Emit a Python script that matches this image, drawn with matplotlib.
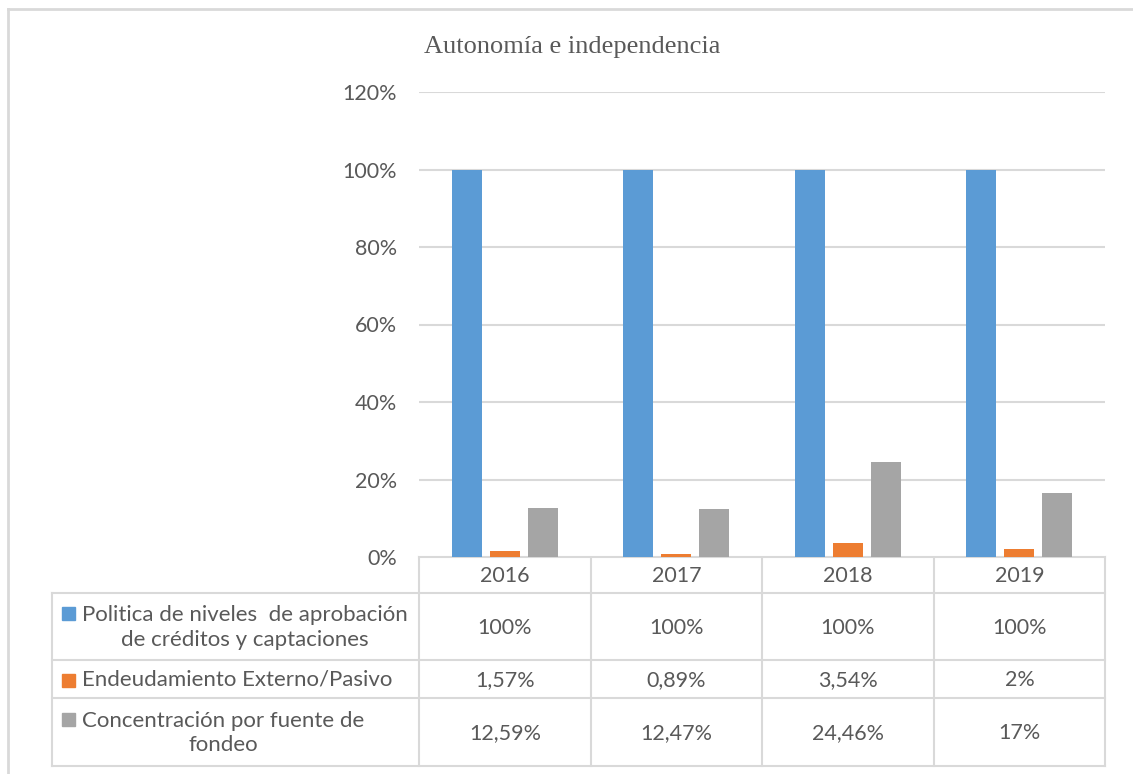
import numpy as np
import matplotlib
matplotlib.use("Agg")
import matplotlib.pyplot as plt
from matplotlib.patches import Rectangle

# datos del grafico
anios = ["2016", "2017", "2018", "2019"]
series = ["Politica de niveles  de aprobación\nde créditos y captaciones",
          "Endeudamiento Externo/Pasivo",
          "Concentración por fuente de\nfondeo"]
politica = [1.0, 1.0, 1.0, 1.0]
endeudamiento = [0.0157, 0.0089, 0.0354, 0.02]
concentracion = [0.1259, 0.1247, 0.2446, 0.165]
tabla_politica = ["100%", "100%", "100%", "100%"]
tabla_endeudamiento = ["1,57%", "0,89%", "3,54%", "2%"]
tabla_concentracion = ["12,59%", "12,47%", "24,46%", "17%"]
yticks = [0, 0.2, 0.4, 0.6, 0.8, 1.0, 1.2]

colores = ["#5B9BD5", "#ED7D31", "#A5A5A5"]
gris_txt = "#595959"
gris_lin = "#D9D9D9"
fs = 15.5
plt.rcParams['font.family'] = ['Lato', 'DejaVu Sans']

W, H = 1133, 774
fig = plt.figure(figsize=(W / 100, H / 100), dpi=100)

# pixel coords -> fig fraction
x0, x1, y0, y1 = 419, 1105, 557, 92
ax = fig.add_axes([x0 / W, 1 - y0 / H, (x1 - x0) / W, (y0 - y1) / H])
x = np.arange(len(anios))
ancho = 0.175
paso = 0.2216
for i, vals in enumerate([politica, endeudamiento, concentracion]):
    ax.bar(x + (i - 1) * paso, vals, width=ancho, color=colores[i], zorder=3)
ax.set_xlim(-0.5, len(anios) - 0.5)
ax.set_ylim(0, 1.2)
ax.set_yticks(yticks)
ax.set_yticklabels(["{:.0f}%".format(v * 100) for v in yticks], color=gris_txt, fontsize=fs)
ax.tick_params(axis='y', length=0, pad=16)
ax.set_xticks([])
ax.grid(axis='y', color=gris_lin, linewidth=1.5, zorder=0)
for s in ax.spines.values():
    s.set_visible(False)

# capa en pixeles para la tabla, borde y titulo
t = fig.add_axes([0, 0, 1, 1], zorder=-1)
t.set_xlim(0, W)
t.set_ylim(H, 0)
t.axis('off')

t.plot([8, 8], [9, H], color=gris_lin, lw=2)
t.plot([8, W], [9, 9], color=gris_lin, lw=2)
t.text(424, 47, "Autonomía e independencia", family="Liberation Serif",
       fontsize=19, color=gris_txt, va='center', ha='left')

col_x = [419, 591, 762, 934, 1105]
fila_y = [557, 593, 660, 698, 766]
tab_left = 52
lw = 1.5
# header
t.plot([x0, x1], [fila_y[0], fila_y[0]], color=gris_lin, lw=lw)
for yy in fila_y[1:]:
    t.plot([tab_left, x1], [yy, yy], color=gris_lin, lw=lw)
t.plot([tab_left, tab_left], [fila_y[1], fila_y[-1]], color=gris_lin, lw=lw)
for xx in col_x:
    t.plot([xx, xx], [fila_y[0], fila_y[-1]], color=gris_lin, lw=lw)

for j, a in enumerate(anios):
    cx = (col_x[j] + col_x[j + 1]) / 2
    t.text(cx, (fila_y[0] + fila_y[1]) / 2 + 1, a, ha='center', va='center',
           fontsize=fs, color=gris_txt)

filas = [tabla_politica, tabla_endeudamiento, tabla_concentracion]
for i, nombre in enumerate(series):
    ya, yb = fila_y[i + 1], fila_y[i + 2]
    cy = (ya + yb) / 2 + 1
    nlin = nombre.count("\n") + 1
    sq_y = cy - (nlin - 1) * 14
    t.add_patch(Rectangle((62, sq_y - 6.5), 13, 13, color=colores[i]))
    t.text(82, cy, nombre, ha='left', va='center', multialignment='center',
           fontsize=16, color=gris_txt, linespacing=1.27)
    for j, lab in enumerate(filas[i]):
        cx = (col_x[j] + col_x[j + 1]) / 2
        t.text(cx, cy, lab, ha='center', va='center', fontsize=fs, color=gris_txt)

fig.savefig("out.png", dpi=100)
